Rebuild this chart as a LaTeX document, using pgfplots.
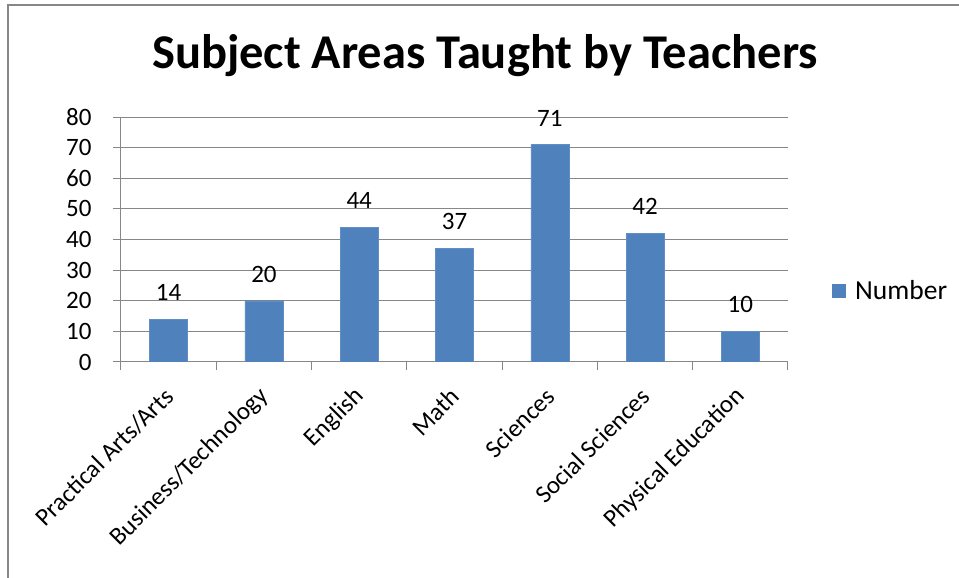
\documentclass[border=0pt]{standalone}
\usepackage{pgfplots}
\pgfplotsset{compat=1.18}
\usepackage{fontspec}
\setmainfont{Carlito}
\definecolor{barblue}{HTML}{4F81BD}
\definecolor{gridgray}{HTML}{878787}
\begin{document}
\begin{tikzpicture}[x=1pt,y=1pt]
\path[use as bounding box] (0,0) rectangle (959,578);
\draw[gridgray,line width=1.5pt] (8,0) -- (8,573) -- (959,573);
\node[font=\fontsize{48.5}{58}\selectfont\bfseries] at (485,522) {Subject Areas Taught by Teachers};
\begin{axis}[
  at={(168.64pt,216pt)}, anchor=origin,
  scale only axis, width=667pt, height=245pt,
  xmin=-0.5, xmax=6.5, ymin=0, ymax=80,
  ytick={0,10,...,80},
  xtick={-0.5,0.5,...,6.5},
  x tick label as interval,
  xticklabels={Practical Arts/Arts,Business/Technology,English,Math,Sciences,Social Sciences,Physical Education},
  axis x line*=bottom, axis y line*=left,
  axis line style={gridgray,line width=1pt},
  x axis line style={-}, y axis line style={-},
  tick align=outside,
  major tick length=8pt,
  tick style={gridgray,line width=1pt},
  ymajorgrids, grid style={gridgray,line width=1pt},
  tick label style={font=\fontsize{25}{30}\selectfont},
  /pgf/number format/assume math mode=true,
  yticklabel style={xshift=-18pt},
  xticklabel style={xshift=3pt, yshift=-20pt, rotate=45, anchor=east},
  ybar, bar width=38pt,
  nodes near coords,
  every node near coord/.append style={font=\fontsize{25}{30}\selectfont, black, yshift=15pt},
  legend style={at={(axis description cs:1.066,0.29)}, anchor=west, draw=none, fill=none, font=\fontsize{27.5}{30}\selectfont, inner sep=0pt},
  legend image code/.code={\fill[barblue,draw=none] (0pt,-7pt) rectangle (14pt,7pt); \path[draw=none,fill=none] (0pt,-7pt) rectangle (21pt,7pt);},
]
\addplot[fill=barblue, draw=barblue!90!white] coordinates {(0,14) (1,20) (2,44) (3,37) (4,71) (5,42) (6,10)};
\addlegendentry{Number}
\end{axis}
\end{tikzpicture}
\end{document}
